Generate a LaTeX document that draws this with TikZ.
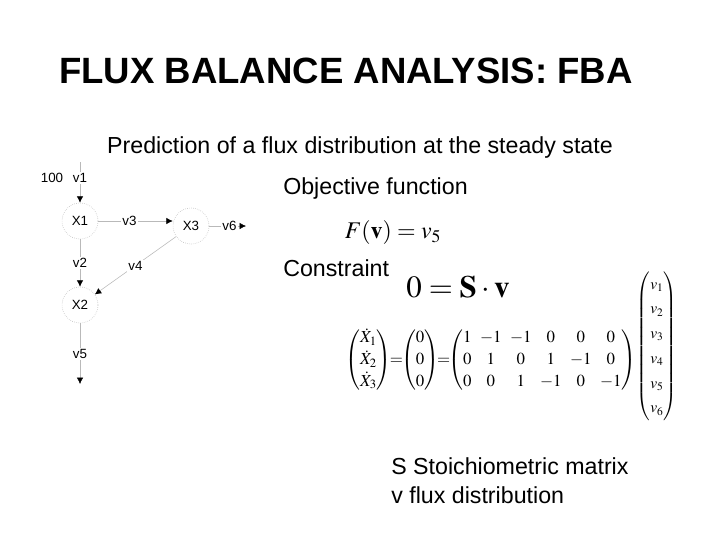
\documentclass[tikz,border=0pt]{standalone}
\usepackage{amsmath}
\usepackage{mathptmx}
\usepackage{fontspec}
\setmainfont{Liberation Sans}
\usetikzlibrary{arrows.meta}

\begin{document}
\begin{tikzpicture}[
        x=0.025cm, y=-0.025cm,
        metab/.style={circle, draw=gray!60, densely dotted, minimum size=0.9cm, inner sep=0pt, font=\fontsize{9.5}{11}\selectfont},
        flux/.style={-{Latex[length=4.5pt,width=4.5pt,black]}, gray!55, thin},
        fluxtext/.style={font=\fontsize{9.5}{11}\selectfont, fill=white, inner sep=1pt, text=black},
        bodytext/.style={font=\fontsize{16.5}{19}\selectfont, inner sep=0pt}
    ]
        \useasboundingbox (0,0) rectangle (720,540);

        % Heading
        \node[font=\fontsize{26}{30}\selectfont\bfseries, inner sep=0pt] (title) at (346,71) {FLUX BALANCE ANALYSIS: FBA};
        \node[bodytext] (sub) at (360,147) {Prediction of a flux distribution at the steady state};

        % Metabolites
        \node[metab] (x1) at (80,221) {X1};
        \node[metab] (x3) at (191,226) {X3};
        \node[metab] (x2) at (80,305) {X2};
        \coordinate (in) at (80,162);
        \coordinate (out5) at (80,384);
        \coordinate (out6) at (246,226);

        % Fluxes
        \node[fluxtext] (feed) at (52,178) {100};
        \draw[flux] (in) -- node[fluxtext, pos=0.4] {v1} (x1);
        \draw[flux] (x1) -- node[fluxtext] {v2} (x2);
        \draw[flux] (x1) -- node[fluxtext, pos=0.42] {v3} (x1 -| x3.west);
        \draw[flux] (x3) -- node[fluxtext] {v4} (x2);
        \draw[flux] (x2) -- node[fluxtext] {v5} (out5);
        \draw[flux] (x3) -- node[fluxtext, pos=0.55] {v6} (out6);

        % Objective and constraint
        \node[bodytext, anchor=west] (obj) at (283,188) {Objective function};
        \node[font=\fontsize{17}{20}\selectfont, inner sep=0pt] (objeq) at (393,233) {$F(\mathbf{v}) = v_5$};
        \node[bodytext, anchor=west] (cons) at (283,268) {Constraint};
        \node[font=\fontsize{22}{26}\selectfont, inner sep=0pt] (conseq) at (458,287) {$0 = \mathbf{S}\cdot\mathbf{v}$};

        % Stoichiometry
        \node[font=\fontsize{12}{15.6}\selectfont, inner sep=0pt, anchor=west] (smat) at (345,360)
            {\setlength{\arraycolsep}{3pt}$\begin{pmatrix}\dot{X}_1\\ \dot{X}_2\\ \dot{X}_3\end{pmatrix}
            \mkern-4mu{=}\mkern-4mu\begin{pmatrix}0\\ 0\\ 0\end{pmatrix}
            \mkern-4mu{=}\mkern-4mu\begin{pmatrix}1 & -1 & -1 & 0 & 0 & 0\\ 0 & 1 & 0 & 1 & -1 & 0\\ 0 & 0 & 1 & -1 & 0 & -1\end{pmatrix}$};
        \node[font=\fontsize{11}{17.6}\selectfont, inner sep=0pt] (vvec) at (657,346)
            {$\begin{pmatrix}v_1\\ v_2\\ v_3\\ v_4\\ v_5\\ v_6\end{pmatrix}$};

        % Legend
        \node[bodytext, anchor=west] (leg1) at (391,466) {S Stoichiometric matrix};
        \node[bodytext, anchor=west] (leg2) at (391,495) {v flux distribution};
    \end{tikzpicture}
\end{document}
